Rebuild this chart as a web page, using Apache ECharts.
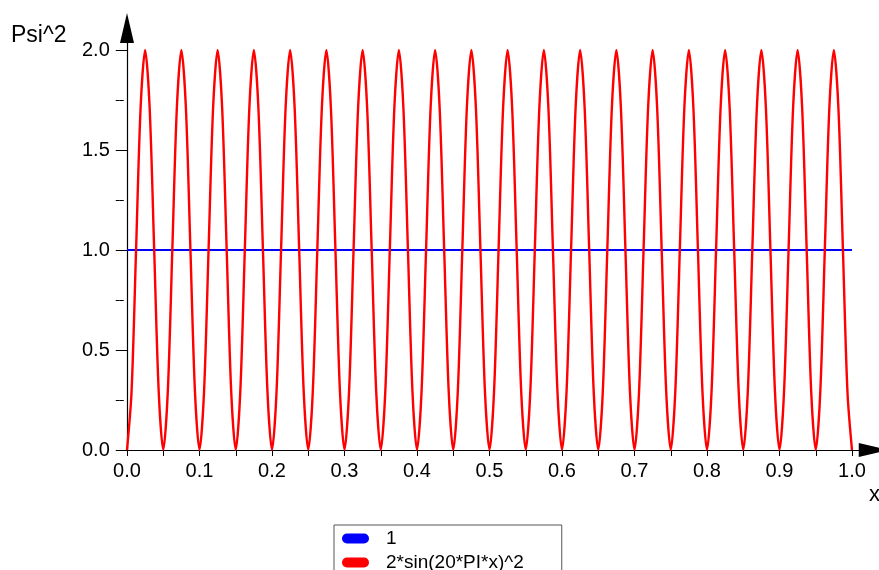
<!DOCTYPE html>
<html>
<head>
<meta charset="utf-8">
<title>Psi^2</title>
<script src="https://cdn.jsdelivr.net/npm/echarts@6/dist/echarts.min.js"></script>
<style>
  html, body { margin: 0; padding: 0; background: #fff; }
  #chart { width: 879px; height: 570px; }
</style>
</head>
<body>
<div id="chart"></div>
<script>
// series names
const seriesNames = ["1", "2*sin(20*PI*x)^2"];

// constant line y = 1
const flatX = [0, 1];
const flatY = [1, 1];

const waveStep = 0.00625;
const waveY = [
  0, 0.29, 1, 1.71, 2, 1.71, 1, 0.29,
  0, 0.29, 1, 1.71, 2, 1.71, 1, 0.29,
  0, 0.29, 1, 1.71, 2, 1.71, 1, 0.29,
  0, 0.29, 1, 1.71, 2, 1.71, 1, 0.29,
  0, 0.29, 1, 1.71, 2, 1.71, 1, 0.29,
  0, 0.29, 1, 1.71, 2, 1.71, 1, 0.29,
  0, 0.29, 1, 1.71, 2, 1.71, 1, 0.29,
  0, 0.29, 1, 1.71, 2, 1.71, 1, 0.29,
  0, 0.29, 1, 1.71, 2, 1.71, 1, 0.29,
  0, 0.29, 1, 1.71, 2, 1.71, 1, 0.29,
  0, 0.29, 1, 1.71, 2, 1.71, 1, 0.29,
  0, 0.29, 1, 1.71, 2, 1.71, 1, 0.29,
  0, 0.29, 1, 1.71, 2, 1.71, 1, 0.29,
  0, 0.29, 1, 1.71, 2, 1.71, 1, 0.29,
  0, 0.29, 1, 1.71, 2, 1.71, 1, 0.29,
  0, 0.29, 1, 1.71, 2, 1.71, 1, 0.29,
  0, 0.29, 1, 1.71, 2, 1.71, 1, 0.29,
  0, 0.29, 1, 1.71, 2, 1.71, 1, 0.29,
  0, 0.29, 1, 1.71, 2, 1.71, 1, 0.29,
  0, 0.29, 1, 1.71, 2, 1.71, 1, 0.29,
  0
];

// tick positions
const xLabels = [0, 0.1, 0.2, 0.3, 0.4, 0.5, 0.6, 0.7, 0.8, 0.9, 1.0];
const xTicks = [0, 0.05, 0.1, 0.15, 0.2, 0.25, 0.3, 0.35, 0.4, 0.45, 0.5,
  0.55, 0.6, 0.65, 0.7, 0.75, 0.8, 0.85, 0.9, 0.95, 1.0];
const yLabels = [0, 0.5, 1.0, 1.5, 2.0];
const yMinorTicks = [0, 0.25, 0.5, 0.75, 1.0, 1.25, 1.5, 1.75, 2.0];

const FONT = "Liberation Sans, Arial, sans-serif";
const PILL = "path://M5,0 H22 A5,5 0 0 1 22,10 H5 A5,5 0 0 1 5,0 Z";

const flatData = flatX.map((x, i) => [x, flatY[i]]);
const waveData = waveY.map((y, i) => [i * waveStep, y]);

// extra y axes that only draw ticks
function tickAxis(values, inside, len) {
  return {
    type: "value",
    min: 0,
    max: 2.11,
    position: "left",
    axisLine: { show: true, onZero: true, lineStyle: { color: "rgba(0,0,0,0)" } },
    axisLabel: { show: false },
    splitLine: { show: false },
    axisTick: {
      show: true,
      inside: inside,
      length: len,
      customValues: values,
      lineStyle: { color: "#000", width: 1 },
    },
  };
}

const chart = echarts.init(document.getElementById("chart"));
chart.setOption({
  animation: false,
  backgroundColor: "#fff",
  grid: { left: 119.75, right: 5.25, top: 28, bottom: 120, containLabel: false },
  xAxis: {
    type: "value",
    min: -0.01,
    max: 1.03,
    axisLine: {
      show: true,
      onZero: true,
      symbol: ["none", "triangle"],
      symbolSize: [14, 30],
      lineStyle: { color: "#000", width: 1.2 },
    },
    axisTick: {
      show: true,
      length: 6,
      customValues: xTicks,
      lineStyle: { color: "#000" },
    },
    axisLabel: {
      customValues: xLabels,
      formatter: (v) => v.toFixed(1),
      margin: 11,
      color: "#000",
      fontSize: 20,
      fontFamily: FONT,
    },
    splitLine: { show: false },
  },
  yAxis: [
    {
      type: "value",
      min: 0,
      max: 2.11,
      position: "left",
      axisLine: {
        show: true,
        onZero: true,
        symbol: ["none", "triangle"],
        symbolSize: [14, 30],
        lineStyle: { color: "#000", width: 1.2 },
      },
      axisTick: {
        show: true,
        length: 8,
        customValues: yLabels,
        lineStyle: { color: "#000" },
      },
      axisLabel: {
        customValues: yLabels,
        formatter: (v) => v.toFixed(1),
        margin: 10,
        color: "#000",
        fontSize: 20,
        fontFamily: FONT,
      },
      splitLine: { show: false },
    },
    tickAxis(yMinorTicks, true, 4),
    tickAxis(yMinorTicks, false, 4),
  ],
  legend: {
    orient: "vertical",
    left: 334,
    top: 525,
    height: 120,
    padding: [4, 38, 6, 8],
    itemGap: 5,
    itemWidth: 27,
    itemHeight: 10,
    borderColor: "#555",
    borderWidth: 1,
    borderRadius: 0,
    textStyle: { color: "#000", fontSize: 19, fontFamily: FONT, padding: [0, 0, 0, 12] },
    data: [
      { name: seriesNames[0], icon: PILL },
      { name: seriesNames[1], icon: PILL },
    ],
  },
  graphic: [
    {
      type: "text",
      left: 11,
      top: 24,
      style: { text: "Psi^2", fill: "#000", font: "23px " + FONT },
    },
    {
      type: "text",
      left: 869,
      top: 484,
      style: { text: "x", fill: "#000", font: "22px " + FONT },
    },
  ],
  series: [
    {
      name: seriesNames[0],
      type: "line",
      data: flatData,
      showSymbol: false,
      color: "#0000ff",
      lineStyle: { color: "#0000ff", width: 2 },
    },
    {
      name: seriesNames[1],
      type: "line",
      data: waveData,
      showSymbol: false,
      smooth: 0.3,
      color: "#ff0000",
      lineStyle: { color: "#ff0000", width: 2.4 },
    },
  ],
});
</script>
</body>
</html>
